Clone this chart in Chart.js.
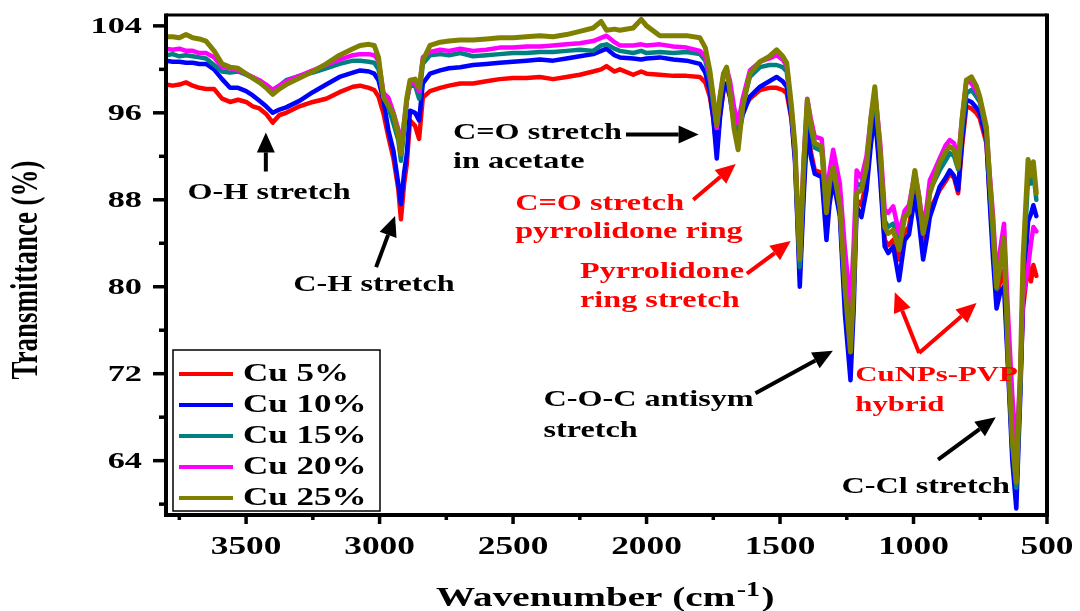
<!DOCTYPE html>
<html>
<head>
<meta charset="utf-8">
<title>FTIR spectra - Cu/PVP</title>
<script src="https://cdn.jsdelivr.net/npm/chart.js@4.4.0/dist/chart.umd.min.js"></script>
<style>
  html, body { margin: 0; padding: 0; background: #fff; }
  #wrap { width: 1080px; height: 611px; }
</style>
</head>
<body>
<div id="wrap"><canvas id="ftir" width="1080" height="611"></canvas></div>
<script>
// wavenumbers (cm-1), shared by every spectrum
const wavenumber = [
  3800, 3775, 3750, 3725, 3700, 3675, 3650, 3620, 3590, 3560,
  3530, 3500, 3475, 3450, 3425, 3400, 3375, 3350, 3300, 3250,
  3200, 3150, 3100, 3073, 3040, 3020, 3004, 2985, 2967, 2948,
  2930, 2920, 2908, 2898, 2886, 2867, 2852, 2838, 2811, 2773,
  2740, 2698, 2650, 2600, 2550, 2500, 2450, 2400, 2350, 2300,
  2250, 2200, 2170, 2150, 2120, 2100, 2050, 2020, 2000, 1950,
  1900, 1850, 1800, 1780, 1763, 1750, 1737, 1725, 1712, 1700,
  1688, 1672, 1657, 1640, 1613, 1575, 1540, 1513, 1490, 1475,
  1457, 1444, 1435, 1426, 1412, 1398, 1385, 1370, 1344, 1326,
  1315, 1301, 1276, 1257, 1236, 1224, 1213, 1195, 1176, 1160,
  1145, 1125, 1108, 1095, 1076, 1054, 1033, 1017, 995, 980,
  964, 950, 939, 920, 902, 880, 864, 848, 833, 818,
  802, 783, 765, 752, 727, 715, 702, 689, 675, 661,
  645, 630, 615, 600, 590, 571, 560, 551, 540
];

// transmittance (%)
const cu5 = [
  98.6, 98.5, 98.6, 98.8, 98.5, 98.3, 98.2, 98.2, 97.3, 97.0,
  97.2, 97.0, 96.6, 96.4, 95.9, 95.1, 95.8, 96.0, 96.6, 97.0,
  97.3, 97.9, 98.4, 98.5, 98.3, 98.1, 97.5, 95.9, 93.8, 91.8,
  89.0, 86.2, 89.5, 91.3, 95.3, 94.8, 93.6, 97.4, 98.0, 98.3,
  98.5, 98.7, 98.7, 98.9, 99.1, 99.2, 99.2, 99.3, 99.1, 99.3,
  99.5, 99.8, 100.0, 100.3, 99.8, 100.0, 99.5, 99.8, 99.6, 99.5,
  99.4, 99.4, 99.3, 98.8, 97.5, 95.5, 92.6, 95.8, 98.0, 98.4,
  97.6, 96.0, 95.3, 96.3, 97.3, 98.1, 98.3, 98.3, 98.1, 97.8,
  95.4, 92.0, 86.5, 81.2, 88.8, 95.3, 92.5, 90.7, 90.5, 85.8,
  88.5, 90.4, 87.0, 79.0, 73.6, 80.0, 88.0, 87.5, 89.8, 93.8,
  96.6, 90.5, 84.3, 83.8, 84.3, 82.5, 85.0, 85.5, 88.9, 86.5,
  83.4, 85.5, 87.1, 88.0, 88.9, 89.7, 90.4, 90.0, 88.6, 93.0,
  96.6, 96.4, 96.0, 95.5, 93.2, 88.5, 83.5, 79.0, 80.5, 81.5,
  72.5, 65.0, 61.0, 71.0, 78.0, 82.0, 80.5, 82.0, 81.0
];
const cu10 = [
  100.8, 100.7, 100.7, 100.6, 100.6, 100.5, 100.5, 100.0, 99.1, 98.3,
  98.3, 98.0, 97.6, 97.1, 96.6, 96.0, 96.3, 96.5, 97.1, 97.9,
  98.6, 99.3, 99.7, 99.9, 99.8, 99.6, 99.0, 97.1, 94.4, 92.5,
  89.5, 87.6, 90.5, 92.2, 96.2, 96.0, 95.3, 98.7, 99.6, 99.9,
  100.1, 100.2, 100.4, 100.5, 100.6, 100.7, 100.8, 100.9, 100.8, 101.0,
  101.2, 101.4, 101.7, 101.9, 101.3, 101.1, 101.0, 100.9, 101.0, 101.1,
  100.9, 100.8, 100.5, 99.7, 98.0, 95.5, 91.8, 95.5, 98.2, 98.7,
  97.5, 95.0, 93.8, 95.8, 97.5, 98.4, 98.9, 99.3, 98.9, 98.4,
  95.5, 91.5, 86.0, 80.0, 88.0, 94.7, 92.0, 90.4, 90.1, 84.3,
  87.5, 89.8, 86.5, 77.5, 71.4, 78.0, 87.4, 86.4, 88.9, 93.0,
  96.0, 90.0, 83.7, 83.1, 83.7, 80.6, 84.3, 84.8, 88.3, 86.0,
  82.5, 84.5, 86.4, 87.8, 89.2, 90.0, 90.7, 90.2, 88.9, 93.5,
  97.2, 97.0, 96.5, 96.0, 93.6, 88.0, 82.5, 78.0, 79.5, 80.0,
  72.0, 64.0, 59.6, 70.0, 78.5, 86.0, 86.7, 87.5, 86.5
];
const cu15 = [
  101.3, 101.4, 101.2, 101.3, 101.2, 101.1, 101.0, 100.4, 99.8, 99.7,
  99.8, 99.5, 99.2, 98.8, 98.5, 98.1, 98.5, 99.0, 99.4, 99.7,
  100.1, 100.5, 100.8, 100.8, 100.7, 100.6, 100.0, 97.5, 96.5, 95.0,
  93.5, 91.6, 94.5, 97.1, 98.5, 98.5, 97.3, 100.5, 101.3, 101.4,
  101.3, 101.5, 101.2, 101.3, 101.4, 101.5, 101.5, 101.6, 101.6, 101.7,
  101.8, 101.7, 102.2, 102.3, 101.9, 101.7, 101.5, 101.7, 101.5, 101.6,
  101.5, 101.6, 101.4, 100.8, 99.0, 96.8, 94.6, 97.0, 99.3, 99.9,
  98.3, 95.5, 94.1, 96.8, 99.3, 100.2, 100.4, 100.4, 100.2, 99.8,
  96.0, 92.5, 87.0, 81.8, 90.0, 96.8, 94.5, 92.8, 92.5, 87.0,
  89.5, 91.4, 88.0, 81.5, 76.3, 82.0, 89.5, 89.3, 91.3, 94.8,
  97.8, 92.5, 86.1, 85.5, 85.8, 84.3, 86.4, 86.8, 90.2, 88.0,
  85.2, 87.0, 88.9, 89.8, 90.7, 91.6, 92.3, 92.0, 90.8, 94.5,
  97.8, 98.1, 97.5, 97.0, 94.2, 89.5, 84.5, 79.8, 82.0, 84.0,
  73.0, 65.5, 61.5, 71.0, 81.0, 90.0, 89.5, 90.5, 88.0
];
const cu20 = [
  101.9, 101.8, 101.9, 101.7, 101.7, 101.5, 101.5, 101.1, 100.2, 100.1,
  99.9, 99.6, 99.3, 99.0, 98.6, 98.1, 98.5, 98.9, 99.4, 99.9,
  100.4, 100.9, 101.3, 101.4, 101.4, 101.3, 100.8, 97.8, 97.4, 96.0,
  94.5, 92.8, 95.2, 97.1, 98.8, 98.7, 98.0, 101.1, 101.6, 101.8,
  101.7, 101.9, 101.7, 101.8, 102.0, 102.0, 102.1, 102.1, 102.2, 102.3,
  102.4, 102.6, 102.9, 103.1, 102.5, 102.2, 102.2, 102.3, 102.2, 102.3,
  102.1, 102.0, 101.7, 101.2, 99.5, 97.3, 94.6, 97.5, 99.5, 100.1,
  99.0, 96.5, 95.0, 97.3, 99.9, 100.7, 101.0, 101.3, 100.9, 100.3,
  96.4, 92.8, 88.0, 82.8, 91.5, 97.3, 95.5, 93.8, 93.6, 88.0,
  90.5, 92.6, 89.5, 83.5, 78.2, 84.0, 90.7, 90.0, 92.0, 95.5,
  98.1, 93.3, 87.1, 86.8, 87.4, 84.9, 87.0, 87.5, 90.5, 88.5,
  85.5, 87.5, 89.8, 90.8, 91.8, 93.0, 93.5, 93.2, 91.7, 95.5,
  99.0, 98.7, 98.0, 97.4, 94.5, 90.5, 86.5, 80.9, 83.5, 85.8,
  77.0, 70.0, 65.0, 72.0, 79.0, 81.8, 84.0, 85.5, 85.1
];
const cu25 = [
  103.0, 103.0, 102.9, 103.2, 102.9, 102.8, 102.6, 101.7, 100.5, 100.2,
  100.1, 99.6, 99.2, 98.8, 98.3, 97.7, 98.2, 98.6, 99.2, 99.8,
  100.5, 101.3, 101.9, 102.2, 102.3, 102.2, 101.1, 97.4, 96.7, 95.9,
  94.0, 92.2, 95.0, 97.4, 99.0, 99.1, 98.3, 100.8, 102.2, 102.5,
  102.6, 102.7, 102.7, 102.8, 102.9, 102.9, 103.0, 103.1, 103.0, 103.2,
  103.5, 103.8, 104.4, 103.6, 103.7, 103.6, 103.8, 104.6, 104.0, 103.1,
  103.1, 103.1, 102.9, 102.0, 99.9, 97.5, 94.9, 97.5, 99.6, 100.2,
  98.0, 94.5, 92.6, 96.5, 99.6, 100.7, 101.2, 101.8, 101.2, 100.6,
  96.6, 93.0, 87.5, 82.5, 91.0, 97.2, 95.0, 93.2, 92.9, 86.8,
  89.5, 91.0, 87.4, 80.0, 74.0, 80.0, 88.6, 88.9, 91.0, 95.5,
  98.4, 92.5, 85.5, 84.9, 85.2, 83.4, 86.4, 86.8, 90.7, 88.3,
  84.9, 86.5, 88.6, 90.0, 91.4, 92.4, 92.9, 92.6, 91.0, 95.5,
  99.0, 99.3, 98.5, 97.5, 94.7, 90.0, 85.5, 80.0, 82.0, 84.5,
  73.3, 66.0, 62.0, 72.0, 82.5, 91.7, 90.2, 91.5, 88.6
];

const seriesNames = ['Cu 5%', 'Cu 10%', 'Cu 15%', 'Cu 20%', 'Cu 25%'];
const seriesColors = ['#ff0000', '#0000ff', '#008080', '#ff00ff', '#808000'];

const xMajorTicks = [3500, 3000, 2500, 2000, 1500, 1000, 500];
const xMinorTicks = [3750, 3250, 2750, 2250, 1750, 1250, 750];
const yMajorTicks = [64, 72, 80, 88, 96, 104];
const yMinorTicks = [60, 68, 76, 84, 92, 100];

// band assignments, placed in (wavenumber, %T)
const notes = [
  { text: 'O-H stretch', wn: 3414, t: 88.1, align: 'center', color: '#000' },
  { text: 'C-H stretch', wn: 3021, t: 79.6, align: 'center', color: '#000' },
  { text: 'C=O stretch', wn: 2725, t: 93.6, align: 'left', color: '#000' },
  { text: 'in acetate', wn: 2725, t: 90.9, align: 'left', color: '#000' },
  { text: 'C=O stretch', wn: 2492, t: 87.1, align: 'left', color: '#ff0000' },
  { text: 'pyrrolidone ring', wn: 2492, t: 84.5, align: 'left', color: '#ff0000' },
  { text: 'Pyrrolidone', wn: 2249, t: 80.8, align: 'left', color: '#ff0000' },
  { text: 'ring stretch', wn: 2249, t: 78.1, align: 'left', color: '#ff0000' },
  { text: 'C-O-C antisym', wn: 2386, t: 69.0, align: 'left', color: '#000' },
  { text: 'stretch', wn: 2386, t: 66.2, align: 'left', color: '#000' },
  { text: 'CuNPs-PVP', wn: 1218, t: 71.3, align: 'left', color: '#ff0000', size: 22 },
  { text: 'hybrid', wn: 1218, t: 68.6, align: 'left', color: '#ff0000', size: 22 },
  { text: 'C-Cl stretch', wn: 1270, t: 61.0, align: 'left', color: '#000' }
];
const arrows = [
  { from: [3426, 90.6], to: [3426, 94.2], color: '#000' },
  { from: [3013, 81.8], to: [2942, 86.5], color: '#000' },
  { from: [2077, 94.0], to: [1805, 94.0], color: '#000' },
  { from: [1825, 88.0], to: [1666, 91.3], color: '#ff0000' },
  { from: [1624, 81.2], to: [1460, 84.2], color: '#ff0000' },
  { from: [1592, 70.2], to: [1302, 74.1], color: '#000' },
  { from: [979, 73.9], to: [1070, 79.5], color: '#ff0000' },
  { from: [979, 73.9], to: [764, 78.5], color: '#ff0000' },
  { from: [908, 64.1], to: [692, 68.0], color: '#000' }
];

const SERIF = '"Liberation Serif", "Times New Roman", serif';
const WIDE = 1.4;   // text in this figure is drawn horizontally stretched

function wideText(ctx, text, x, y, align, sx) {
  ctx.save();
  ctx.translate(x, y);
  ctx.scale(sx || WIDE, 1);
  ctx.textAlign = align;
  ctx.fillText(text, 0, 0);
  ctx.restore();
}

function drawArrow(ctx, x1, y1, x2, y2, color) {
  const ang = Math.atan2(y2 - y1, x2 - x1);
  const head = 20, half = 9;
  const bx = x2 - head * Math.cos(ang), by = y2 - head * Math.sin(ang);
  ctx.save();
  ctx.strokeStyle = color;
  ctx.fillStyle = color;
  ctx.lineWidth = 4;
  ctx.beginPath();
  ctx.moveTo(x1, y1);
  ctx.lineTo(bx, by);
  ctx.stroke();
  ctx.beginPath();
  ctx.moveTo(x2, y2);
  ctx.lineTo(bx + half * Math.sin(ang), by - half * Math.cos(ang));
  ctx.lineTo(bx - half * Math.sin(ang), by + half * Math.cos(ang));
  ctx.closePath();
  ctx.fill();
  ctx.restore();
}

// frame, ticks, labels, legend and notes
const decorations = {
  id: 'decorations',
  afterDatasetsDraw(chart) {
    const ctx = chart.ctx;
    const area = chart.chartArea;
    const xs = chart.scales.x, ys = chart.scales.y;

    ctx.save();
    ctx.strokeStyle = '#000';
    ctx.fillStyle = '#000';
    ctx.lineCap = 'butt';

    // box
    ctx.lineWidth = 3;
    ctx.beginPath();
    ctx.moveTo(area.left, area.top);
    ctx.lineTo(area.right, area.top);
    ctx.stroke();
    ctx.lineWidth = 4;
    ctx.beginPath();
    ctx.moveTo(area.left, area.top - 1.5);
    ctx.lineTo(area.left, area.bottom);
    ctx.lineTo(area.right, area.bottom);
    ctx.lineTo(area.right, area.top - 1.5);
    ctx.stroke();

    // tick marks
    ctx.lineWidth = 3.5;
    xMajorTicks.forEach(v => {
      const x = xs.getPixelForValue(v);
      ctx.beginPath(); ctx.moveTo(x, area.bottom); ctx.lineTo(x, area.bottom + 9); ctx.stroke();
    });
    xMinorTicks.forEach(v => {
      const x = xs.getPixelForValue(v);
      ctx.beginPath(); ctx.moveTo(x, area.bottom); ctx.lineTo(x, area.bottom + 5); ctx.stroke();
    });
    yMajorTicks.forEach(v => {
      const y = ys.getPixelForValue(v);
      ctx.beginPath(); ctx.moveTo(area.left, y); ctx.lineTo(area.left - 13, y); ctx.stroke();
    });
    yMinorTicks.forEach(v => {
      const y = ys.getPixelForValue(v);
      ctx.beginPath(); ctx.moveTo(area.left, y); ctx.lineTo(area.left - 7, y); ctx.stroke();
    });

    // tick labels
    ctx.font = 'bold 24px ' + SERIF;
    ctx.textBaseline = 'middle';
    yMajorTicks.forEach(v => {
      wideText(ctx, String(v), 142, ys.getPixelForValue(v) + 1, 'right', 1.43);
    });
    ctx.font = 'bold 26px ' + SERIF;
    ctx.textBaseline = 'alphabetic';
    xMajorTicks.forEach(v => {
      wideText(ctx, String(v), xs.getPixelForValue(v), 554, 'center', 1.36);
    });

    // axis titles
    ctx.save();
    ctx.font = 'bold 27px ' + SERIF;
    ctx.textBaseline = 'middle';
    ctx.translate(27, 270);
    ctx.rotate(-Math.PI / 2);
    ctx.scale(1, WIDE);
    ctx.textAlign = 'center';
    ctx.fillText('Transmittance (%)', 0, 0);
    ctx.restore();

    ctx.save();
    ctx.translate(436, 606);
    ctx.scale(WIDE, 1);
    ctx.textAlign = 'left';
    ctx.font = 'bold 28px ' + SERIF;
    const main = 'Wavenumber (cm';
    ctx.fillText(main, 0, 0);
    let w = ctx.measureText(main).width;
    ctx.font = 'bold 20px ' + SERIF;
    ctx.fillText('-1', w + 1, -10);
    w += ctx.measureText('-1').width + 2;
    ctx.font = 'bold 28px ' + SERIF;
    ctx.fillText(')', w, 0);
    ctx.restore();

    // legend
    const lgX = 173, lgY = 350, lgW = 207, lgH = 161, rowGap = 31;
    ctx.fillStyle = '#fff';
    ctx.fillRect(lgX, lgY, lgW, lgH);
    ctx.lineWidth = 1.5;
    ctx.strokeStyle = '#000';
    ctx.strokeRect(lgX, lgY, lgW, lgH);
    ctx.font = 'bold 25px ' + SERIF;
    ctx.textBaseline = 'middle';
    chart.data.datasets.forEach((ds, i) => {
      const y = lgY + 24 + i * rowGap;
      ctx.strokeStyle = ds.borderColor;
      ctx.lineWidth = 4;
      ctx.beginPath(); ctx.moveTo(lgX + 6, y); ctx.lineTo(lgX + 60, y); ctx.stroke();
      ctx.fillStyle = '#000';
      wideText(ctx, ds.label, lgX + 70, y + 1, 'left');
    });

    // band labels and arrows
    ctx.textBaseline = 'alphabetic';
    notes.forEach(n => {
      ctx.font = 'bold ' + (n.size || 23) + 'px ' + SERIF;
      ctx.fillStyle = n.color;
      wideText(ctx, n.text, xs.getPixelForValue(n.wn), ys.getPixelForValue(n.t), n.align);
    });
    arrows.forEach(a => {
      drawArrow(ctx,
        xs.getPixelForValue(a.from[0]), ys.getPixelForValue(a.from[1]),
        xs.getPixelForValue(a.to[0]), ys.getPixelForValue(a.to[1]), a.color);
    });

    ctx.restore();
  }
};

const spectra = [cu5, cu10, cu15, cu20, cu25];
const datasets = spectra.map((vals, i) => ({
  label: seriesNames[i],
  data: wavenumber.map((wn, j) => ({ x: wn, y: vals[j] })),
  borderColor: seriesColors[i],
  backgroundColor: seriesColors[i],
  borderWidth: i === 4 ? 5 : 4.5,
  borderJoinStyle: 'round',
  borderCapStyle: 'round',
  pointRadius: 0,
  tension: 0,
  fill: false,
  order: 4 - i   // Cu 25% ends up on top
}));

new Chart(document.getElementById('ftir'), {
  type: 'line',
  data: { datasets },
  options: {
    responsive: false,
    animation: false,
    devicePixelRatio: 1,
    layout: { padding: { left: 166, top: 15, right: 33, bottom: 96 } },
    plugins: { legend: { display: false }, tooltip: { enabled: false } },
    scales: {
      x: { type: 'linear', reverse: true, min: 500, max: 3800, display: false },
      y: { type: 'linear', min: 59, max: 105, display: false }
    }
  },
  plugins: [decorations]
});
</script>
</body>
</html>
